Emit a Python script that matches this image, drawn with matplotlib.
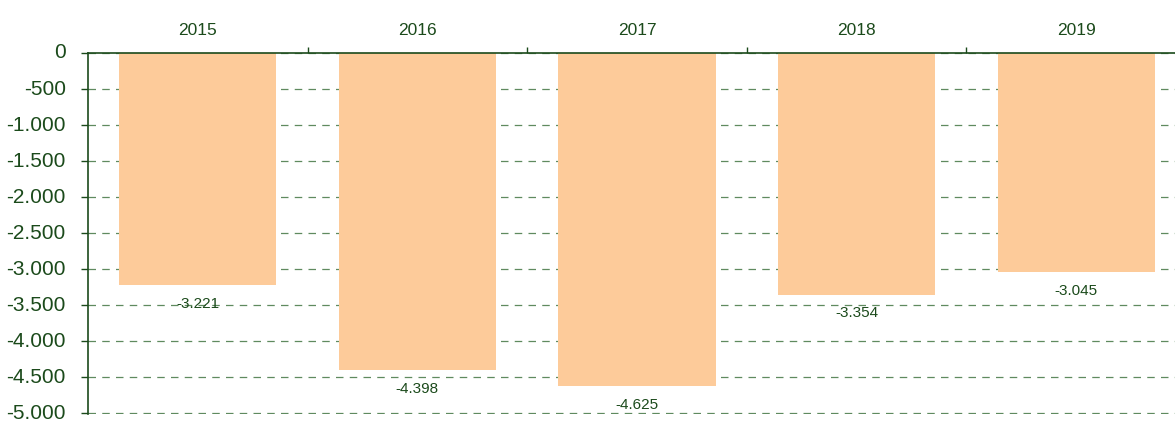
import matplotlib
matplotlib.use("Agg")
import matplotlib.pyplot as plt
import matplotlib.transforms as mtrans
import numpy as np

years = ["2015", "2016", "2017", "2018", "2019"]
values = [-3221, -4398, -4625, -3354, -3045]
yticks = [0, -500, -1000, -1500, -2000, -2500, -3000, -3500, -4000, -4500, -5000]

plt.rcParams['font.family'] = ['Liberation Sans', 'DejaVu Sans']
dark = '#1b4a1b'
grid_c = '#5f8a5f'
bar_c = '#fdcb9a'

W, H = 1175, 422
fig = plt.figure(figsize=(W / 100, H / 100), dpi=100)
left, right, top, bottom = 88, 1186, 53, 413.5
ax = fig.add_axes([left / W, 1 - bottom / H, (right - left) / W, (bottom - top) / H])

x = np.arange(len(years))
ax.bar(x, values, width=0.715, color=bar_c, zorder=2)

for xi, v in zip(x, values):
    lbl = f"{v:,.0f}".replace(",", ".")
    ax.annotate(lbl, (xi, v), xytext=(0, -8.5), textcoords='offset points',
                ha='center', va='top', fontsize=11, color=dark, zorder=3)

ax.set_xlim(-0.5, 4.5)
ax.set_ylim(-5005, 0)
ax.set_yticks(yticks)
ax.set_yticklabels([f"{v:,.0f}".replace(",", ".") for v in yticks])
ax.yaxis.grid(True, color=grid_c, linestyle=(0, (6, 5)), linewidth=0.9, zorder=1)
ax.set_axisbelow(True)

ax.xaxis.tick_top()
ax.set_xticks(x)
ax.set_xticklabels(years)
ax.set_xticks(x[:-1] + 0.5, minor=True)
ax.tick_params(axis='x', which='major', length=0, pad=11, labelsize=12.5, colors=dark)
ax.tick_params(axis='x', which='minor', length=4, width=1, color=dark, direction='out')
ax.tick_params(axis='y', length=5, width=1, color=dark, pad=11, labelsize=15, labelcolor=dark)

shift = mtrans.ScaledTranslation(0, 2 / 100, fig.dpi_scale_trans)
for lab in ax.get_yticklabels():
    lab.set_transform(lab.get_transform() + shift)

for s in ['bottom', 'right']:
    ax.spines[s].set_visible(False)
for s in ['top', 'left']:
    ax.spines[s].set_color(dark)
    ax.spines[s].set_linewidth(1.2)
ax.spines['top'].set_zorder(4)

fig.savefig("out.png", dpi=100)
